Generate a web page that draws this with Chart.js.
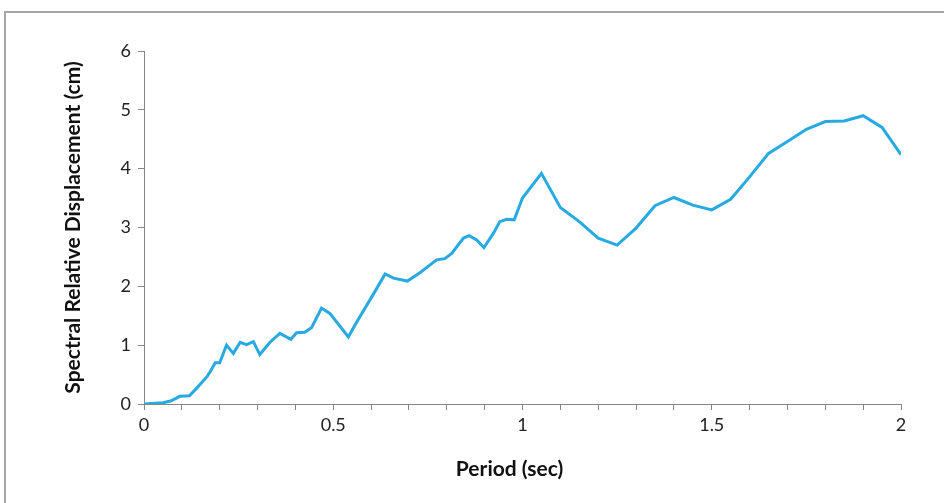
<!DOCTYPE html>
<html>
<head>
<meta charset="utf-8">
<script src="https://cdn.jsdelivr.net/npm/chart.js@4/dist/chart.umd.min.js"></script>
<style>
  html, body { margin: 0; padding: 0; background: #ffffff; }
  #wrap { position: relative; width: 944px; height: 503px; overflow: hidden; }
  #frame { position: absolute; left: 4px; top: 11px; width: 960px; height: 520px; border: 2px solid #a6a6a6; box-sizing: border-box; }
  #c { position: absolute; left: 0; top: 0; }
</style>
</head>
<body>
<div id="wrap">
  <div id="frame"></div>
  <canvas id="c" width="944" height="503"></canvas>
</div>
<script>
const periods = [0, 0.02, 0.05, 0.07, 0.095, 0.12, 0.135, 0.166, 0.175, 0.188,
  0.2, 0.218, 0.236, 0.254, 0.271, 0.289, 0.306, 0.333, 0.359, 0.388,
  0.403, 0.425, 0.443, 0.469, 0.491, 0.54, 0.557, 0.61, 0.637, 0.659,
  0.696, 0.729, 0.773, 0.795, 0.813, 0.844, 0.859, 0.879, 0.898, 0.923,
  0.94, 0.958, 0.978, 1.0, 1.05, 1.1, 1.15, 1.2, 1.25, 1.3,
  1.35, 1.4, 1.45, 1.5, 1.55, 1.6, 1.65, 1.7, 1.75, 1.8,
  1.85, 1.9, 1.95, 2.0];
const displacement = [0, 0.01, 0.02, 0.05, 0.13, 0.14, 0.24, 0.46, 0.55, 0.70,
  0.70, 1.0, 0.86, 1.05, 1.01, 1.06, 0.84, 1.05, 1.20, 1.10,
  1.21, 1.22, 1.30, 1.63, 1.54, 1.14, 1.34, 1.91, 2.21, 2.14,
  2.09, 2.23, 2.45, 2.47, 2.56, 2.82, 2.86, 2.79, 2.66, 2.90,
  3.10, 3.14, 3.13, 3.50, 3.92, 3.34, 3.10, 2.82, 2.70, 2.99,
  3.37, 3.51, 3.38, 3.30, 3.48, 3.86, 4.26, 4.46, 4.67, 4.80,
  4.81, 4.90, 4.70, 4.24];
const xTitle = "Period (sec)";
const yTitle = "Spectral Relative Displacement (cm)";

const points = periods.map((p, i) => ({ x: p, y: displacement[i] }));
const fontFamily = "Lato, 'Open Sans', sans-serif";

// draws the x-axis title slightly left of the plot centre, as in the reference
const xTitlePlugin = {
  id: 'xTitlePlugin',
  afterDraw(chart) {
    const ctx = chart.ctx;
    const area = chart.chartArea;
    ctx.save();
    ctx.font = "bold 21px " + fontFamily;
    ctx.fillStyle = '#111';
    ctx.textAlign = 'center';
    ctx.textBaseline = 'middle';
    ctx.fillText(xTitle, (area.left + area.right) / 2 - 13, 469);
    ctx.restore();
  }
};

new Chart(document.getElementById('c'), {
  type: 'line',
  data: {
    datasets: [{
      data: points,
      borderColor: '#27a9e1',
      borderWidth: 3,
      pointRadius: 0,
      tension: 0,
      fill: false
    }]
  },
  options: {
    responsive: false,
    animation: false,
    layout: { padding: { left: 0, right: 43, top: 51, bottom: 0 } },
    plugins: { legend: { display: false }, tooltip: { enabled: false } },
    scales: {
      x: {
        type: 'linear',
        min: 0, max: 2,
        afterFit: (s) => { s.height = 99; },
        ticks: {
          stepSize: 0.1,
          autoSkip: false,
          maxRotation: 0,
          color: '#222',
          padding: 4,
          font: { family: fontFamily, size: 18 },
          callback: (v) => {
            const r = Math.round(v * 2);
            return Math.abs(v * 2 - r) < 1e-6 ? String(r / 2) : '';
          }
        },
        grid: { drawOnChartArea: false, drawTicks: true, tickLength: 6, color: '#868686', lineWidth: 1 },
        border: { display: true, color: '#868686', width: 1 },
        title: { display: false }
      },
      y: {
        min: 0, max: 6,
        afterFit: (s) => { s.width = 144; },
        ticks: {
          stepSize: 1,
          color: '#222',
          padding: 7,
          font: { family: fontFamily, size: 18 }
        },
        grid: { drawOnChartArea: false, drawTicks: true, tickLength: 6, color: '#868686', lineWidth: 1 },
        border: { display: true, color: '#868686', width: 1 },
        title: {
          display: true, text: yTitle, color: '#111',
          font: { family: fontFamily, size: 21, weight: 'bold' },
          padding: { top: 61, bottom: 0 }
        }
      }
    }
  },
  plugins: [xTitlePlugin]
});
</script>
</body>
</html>
